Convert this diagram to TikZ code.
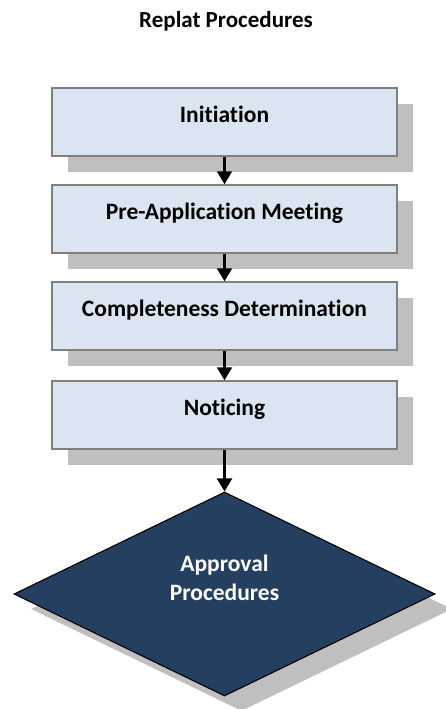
\documentclass[tikz,border=0pt]{standalone}
\usepackage{fontspec}
\setmainfont{Carlito}[Ligatures=NoCommon]
\usetikzlibrary{shapes.geometric,arrows.meta,shadows}
\definecolor{boxfill}{HTML}{DBE5F1}
\definecolor{boxline}{HTML}{7F7F7F}
\definecolor{shade}{HTML}{BFBFBF}
\definecolor{navy}{HTML}{243F60}
\begin{document}
\begin{tikzpicture}[x=1pt,y=-1pt,
  stepbox/.style={draw=boxline, line width=1.5pt, fill=boxfill,
    minimum width=345pt, minimum height=68pt, inner ysep=4pt,
    text height=30pt, text depth=30pt,
    font=\fontsize{23.5}{28}\selectfont\bfseries,
    drop shadow={shadow xshift=16pt, shadow yshift=-16pt, opacity=1, fill=shade}},
  decisionbox/.style={diamond, draw=black, line width=1.1pt, fill=navy,
    minimum width=421pt, minimum height=204pt, inner sep=0pt,
    drop shadow={shadow xshift=17pt, shadow yshift=-15pt, opacity=1, fill=shade}},
  flowarrow/.style={draw=black, line width=2.2pt, -{Triangle[length=13pt,width=15pt]}},
  titletext/.style={font=\fontsize{23}{27}\selectfont\bfseries}
]
\fill[white] (0,0) rectangle (446,709);
\useasboundingbox (0,0) rectangle (446,709);

\node[titletext, anchor=base] (title) at (226,28) {Replat Procedures};

\node[stepbox] (s1) at (224.5,122) {Initiation};
\node[stepbox] (s2) at (224.5,219) {Pre-Application Meeting};
\node[stepbox] (s3) at (224.5,316) {Completeness Determination};
\node[stepbox] (s4) at (224.5,415) {Noticing};

\node[decisionbox] (d) at (224.5,594) {};
\node[font=\fontsize{23.5}{29}\selectfont\bfseries, text=white, align=center, anchor=center] (dt) at (224.5,578) {Approval\\Procedures};

\draw[flowarrow] (s1.south) -- (s2.north);
\draw[flowarrow] (s2.south) -- (s3.north);
\draw[flowarrow] (s3.south) -- (s4.north);
\draw[flowarrow] (s4.south) -- (d.north);
\end{tikzpicture}
\end{document}
